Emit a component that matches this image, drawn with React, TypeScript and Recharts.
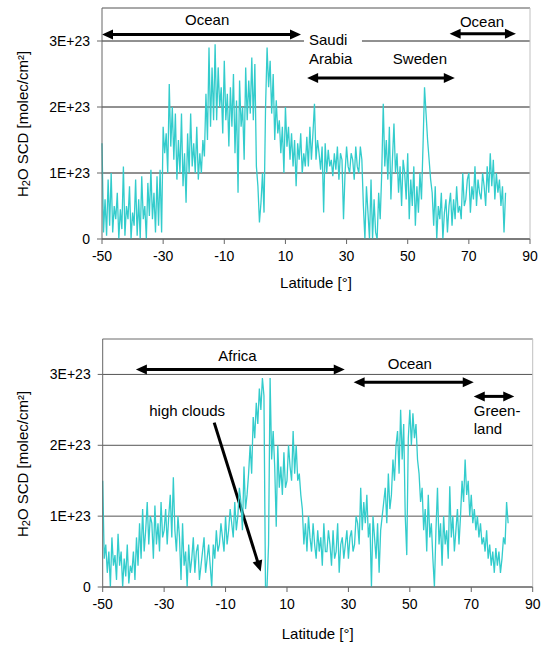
import React from "react";
import { LineChart, Line, XAxis, YAxis, CartesianGrid, ReferenceLine, ReferenceDot } from "recharts";

// H2O slant column density, in units of 1E+23 molec/cm², sampled every 0.5° from -50°
const START_LAT = -50;
const LAT_STEP = 0.5;

const upperScd = [
  1.45, 0.1, 0.6, 0.05, 0.9, 0.2, 1.0, 0.1, 0.5, 0.3, // -50
  0.7, 0.0, 0.45, 0.15, 1.1, 0.05, 0.5, 0.3, 0.8, 0.0, // -45
  0.4, 0.2, 0.9, 0.05, 0.6, 0.0, 0.95, 0.3, 0.5, 0.0, // -40
  0.85, 0.35, 1.05, 0.3, 0.7, 0.1, 0.95, 0.2, 1.05, 0.1, // -35
  1.7, 1.3, 1.6, 1.0, 2.35, 1.4, 2.0, 1.2, 1.9, 0.9, // -30
  1.5, 1.0, 1.9, 0.8, 1.3, 0.55, 1.6, 1.0, 1.9, 1.1, // -25
  1.45, 1.0, 1.7, 0.9, 1.3, 1.0, 1.5, 1.25, 2.2, 1.5, // -20
  2.9, 1.7, 2.6, 1.8, 2.95, 1.8, 2.6, 2.0, 2.3, 1.6, // -15
  2.7, 1.8, 2.2, 1.4, 2.3, 1.7, 2.5, 1.3, 2.1, 0.7, // -10
  2.4, 1.7, 2.0, 1.2, 2.6, 1.8, 2.4, 1.9, 2.75, 1.8, // -5
  2.65, 1.1, 0.8, 0.25, 0.55, 1.0, 0.4, 2.0, 2.9, 2.3, // 0
  2.7, 1.9, 2.5, 1.5, 2.1, 1.6, 1.8, 1.3, 1.7, 1.0, // 5
  2.0, 1.4, 1.7, 1.2, 1.6, 1.1, 1.5, 0.8, 1.45, 1.2, // 10
  1.6, 1.0, 1.3, 1.1, 1.55, 1.1, 1.7, 1.2, 1.6, 2.05, // 15
  1.2, 1.5, 1.3, 1.05, 1.4, 0.4, 1.45, 1.0, 1.35, 1.1, // 20
  1.2, 0.95, 1.3, 1.05, 1.4, 0.9, 1.3, 1.2, 0.3, 1.0, // 25
  1.4, 1.1, 1.0, 1.3, 1.2, 0.9, 1.4, 1.1, 1.0, 1.4, // 30
  1.2, 0.5, 0.0, 0.8, 0.4, 0.0, 0.9, 0.0, 0.6, 0.1, // 35
  0.0, 0.7, 0.3, 1.0, 2.05, 1.1, 1.5, 0.9, 1.7, 0.6, // 40
  1.2, 1.75, 1.0, 1.3, 0.7, 1.1, 0.5, 1.2, 1.0, 0.6, // 45
  1.3, 0.3, 0.9, 0.5, 1.1, 0.2, 0.8, 0.4, 1.0, 0.6, // 50
  1.4, 2.3, 1.9, 1.5, 1.2, 0.9, 0.7, 0.2, 0.8, 0.0, // 55
  0.5, 0.3, 0.7, 0.0, 0.4, 0.6, 0.1, 0.5, 0.7, 0.2, // 60
  0.6, 0.3, 0.8, 0.4, 0.5, 0.3, 1.0, 0.5, 0.6, 0.9, // 65
  1.0, 0.4, 0.8, 0.6, 1.1, 0.5, 0.9, 0.7, 0.6, 1.0, // 70
  0.8, 0.5, 1.1, 0.7, 1.3, 0.8, 1.2, 0.6, 1.0, 0.7, // 75
  0.9, 0.5, 0.8, 0.1, 0.7, // 80
];

const lowerScd = [
  1.5, 0.4, 0.6, 0.2, 0.5, 0.0, 0.7, 0.3, 0.45, 0.1, // -50
  0.75, 0.3, 0.5, 0.0, 0.4, 0.15, 0.6, 0.05, 0.3, 0.2, // -45
  0.5, 0.1, 0.7, 0.3, 0.9, 0.4, 1.1, 0.5, 0.8, 1.2, // -40
  0.6, 1.0, 0.9, 0.4, 1.15, 0.6, 0.9, 0.5, 1.2, 0.7, // -35
  0.8, 1.1, 0.6, 1.0, 1.3, 0.7, 1.55, 0.8, 0.5, 1.0, // -30
  0.7, 0.1, 0.9, 0.3, 0.5, 0.0, 0.6, 0.2, 0.4, 0.7, // -25
  0.2, 0.5, 0.6, 0.1, 0.3, 0.5, 0.7, 0.2, 0.4, 0.6, // -20
  0.3, 0.0, 0.6, 0.4, 0.8, 0.5, 0.6, 0.9, 0.7, 0.5, // -15
  1.0, 0.6, 0.8, 1.1, 0.9, 0.7, 1.2, 0.8, 1.0, 1.4, // -10
  1.2, 0.8, 1.7, 1.1, 1.3, 1.6, 2.0, 1.6, 2.4, 2.1, // -5
  2.6, 2.3, 2.8, 2.5, 2.95, 2.7, 0.0, 0.0, 0.6, 2.95, // 0
  1.8, 2.2, 1.7, 0.85, 2.0, 1.4, 1.7, 1.3, 1.9, 1.4, // 5
  1.5, 2.0, 1.7, 1.5, 2.2, 1.6, 2.0, 1.5, 1.6, 1.3, // 10
  1.1, 0.6, 0.9, 0.5, 1.0, 0.7, 0.5, 0.9, 0.6, 0.4, // 15
  0.8, 0.5, 0.7, 0.3, 0.9, 0.5, 0.5, 0.8, 0.6, 0.3, // 20
  0.8, 0.4, 0.5, 0.9, 0.2, 0.6, 0.7, 0.4, 0.6, 0.8, // 25
  0.4, 0.7, 0.8, 0.5, 0.6, 1.0, 0.9, 0.6, 1.4, 0.8, // 30
  1.2, 0.9, 1.3, 0.7, 0.9, 0.0, 1.0, 0.7, 0.4, 0.9, // 35
  0.2, 0.8, 1.0, 1.2, 1.4, 0.9, 1.6, 1.1, 1.3, 1.8, // 40
  1.5, 2.0, 2.2, 1.6, 2.5, 1.8, 2.3, 1.0, 0.45, 2.1, // 45
  2.5, 2.0, 2.45, 2.1, 2.3, 1.8, 1.6, 1.2, 1.4, 0.8, // 50
  1.1, 0.5, 1.3, 0.7, 0.9, 0.4, 0.0, 0.8, 1.4, 0.6, // 55
  0.9, 0.3, 1.0, 0.6, 0.8, 0.4, 1.42, 0.7, 1.0, 0.5, // 60
  0.8, 1.1, 0.6, 1.0, 1.5, 1.2, 1.8, 1.3, 1.5, 1.0, // 65
  1.3, 0.9, 1.1, 0.8, 1.0, 0.7, 0.9, 0.6, 0.7, 0.5, // 70
  0.8, 0.4, 0.6, 0.3, 0.5, 0.2, 0.55, 0.3, 0.5, 0.2, // 75
  0.4, 0.7, 0.6, 1.2, 0.9, // 80
];

const latTicks = [-50, -30, -10, 10, 30, 50, 70, 90];
const scdTicks = [0, 1, 2, 3];

const toRows = (vals: number[]) => vals.map((scd, i) => ({ lat: START_LAT + i * LAT_STEP, scd }));
const upperData = toRows(upperScd);
const lowerData = toRows(lowerScd);

const LINE = "#33CCCC";
const AXIS = "#666";
const fmt = (v: number) => (v === 0 ? "0" : `${v}E+23`);

// thick black arrow, heads at one or both ends
const arrow = (both: boolean) => (p: any) => {
  const { x1, y1, x2, y2 } = p;
  const len = Math.hypot(x2 - x1, y2 - y1) || 1;
  const ux = (x2 - x1) / len, uy = (y2 - y1) / len;
  const nx = -uy, ny = ux;
  const L = 11, W = 5;
  const head = (tx: number, ty: number, dx: number, dy: number) =>
    `${tx},${ty} ${tx - dx * L + nx * W},${ty - dy * L + ny * W} ${tx - dx * L - nx * W},${ty - dy * L - ny * W}`;
  const sx = both ? x1 + ux * (L - 1) : x1, sy = both ? y1 + uy * (L - 1) : y1;
  return (
    <g>
      <line x1={sx} y1={sy} x2={x2 - ux * (L - 1)} y2={y2 - uy * (L - 1)} stroke="#000" strokeWidth={3} />
      <polygon points={head(x2, y2, ux, uy)} fill="#000" />
      {both && <polygon points={head(x1, y1, -ux, -uy)} fill="#000" />}
    </g>
  );
};

const note = (text: string, anchor: "start" | "middle" = "middle", mask = 0) => (p: any) => (
  <g>
    {mask > 0 && <rect x={p.cx - 5} y={p.cy - 9} width={mask} height={18} fill="#fff" />}
    <text x={p.cx} y={p.cy} textAnchor={anchor} dominantBaseline="central" fontSize={15} fill="#000">
      {text}
    </text>
  </g>
);

const yTitle = (cy: number) => () => (
  <text x={22} y={cy} transform={`rotate(-90, 22, ${cy})`} textAnchor="middle" dominantBaseline="central" fontSize={15} fill="#000">
    H<tspan dy={4} fontSize={11}>2</tspan>
    <tspan dy={-4}>O SCD [molec/cm²]</tspan>
  </text>
);

const xTitle = (cx: number, cy: number) => () => (
  <text x={cx} y={cy} textAnchor="middle" dominantBaseline="central" fontSize={15} fill="#000">
    Latitude [°]
  </text>
);

function Panel(props: {
  data: { lat: number; scd: number }[];
  height: number;
  top: number;
  right: number;
  yWidth: number;
  xHeight: number;
  grid: string;
  titleY: number;
  titleX: number;
  children?: React.ReactNode;
}) {
  const { data, height, top, right, yWidth, xHeight, grid, titleY, titleX } = props;
  return (
    <LineChart width={544} height={height} data={data} margin={{ top, right, bottom: 0, left: 0 }}>
      <CartesianGrid vertical={false} stroke={grid} />
      <ReferenceLine y={3.5} stroke="#c0c0c0" />
      <ReferenceLine x={90} stroke="#c0c0c0" />
      <XAxis
        dataKey="lat"
        type="number"
        domain={[-50, 90]}
        ticks={latTicks}
        interval={0}
        height={xHeight}
        tickSize={5}
        tickMargin={7}
        stroke={AXIS}
        tick={{ fontSize: 14, fill: "#000" }}
        label={{ content: xTitle(yWidth + (544 - yWidth - right) / 2, titleX) }}
      />
      <YAxis
        domain={[0, 3.5]}
        ticks={scdTicks}
        interval={0}
        width={yWidth}
        tickSize={5}
        tickMargin={7}
        stroke={AXIS}
        tick={{ fontSize: 14, fill: "#000" }}
        tickFormatter={fmt}
        label={{ content: yTitle(titleY) }}
      />
      {props.children}
      <Line dataKey="scd" stroke={LINE} strokeWidth={1.3} dot={false} isAnimationActive={false} />
    </LineChart>
  );
}

export default function App() {
  return (
    <div style={{ position: "absolute", left: 0, top: 0, width: 544, height: 646, background: "#fff", fontFamily: "'Liberation Sans', Arial, sans-serif" }}>
      <div style={{ position: "absolute", left: 0, top: 0 }}>
        <Panel data={upperData} height={300} top={8} right={14} yWidth={102} xHeight={61} grid="#222" titleY={124} titleX={282}>
          <ReferenceLine segment={[{ x: -50, y: 3.1 }, { x: 15.1, y: 3.1 }]} ifOverflow="visible" shape={arrow(true)} />
          <ReferenceLine segment={[{ x: 63.7, y: 3.11 }, { x: 85.4, y: 3.11 }]} ifOverflow="visible" shape={arrow(true)} />
          <ReferenceLine segment={[{ x: 17.1, y: 2.44 }, { x: 65.4, y: 2.44 }]} ifOverflow="visible" shape={arrow(true)} />
          <ReferenceDot x={-15.6} y={3.32} ifOverflow="visible" shape={note("Ocean")} />
          <ReferenceDot x={74.3} y={3.3} ifOverflow="visible" shape={note("Ocean")} />
          <ReferenceDot x={17.7} y={3.02} ifOverflow="visible" shape={note("Saudi", "start", 58)} />
          <ReferenceDot x={17.7} y={2.74} ifOverflow="visible" shape={note("Arabia", "start")} />
          <ReferenceDot x={54} y={2.74} ifOverflow="visible" shape={note("Sweden")} />
        </Panel>
      </div>
      <div style={{ position: "absolute", left: 0, top: 330 }}>
        <Panel data={lowerData} height={316} top={9} right={11.3} yWidth={102.7} xHeight={59} grid="#555" titleY={134} titleX={303}>
          <ReferenceLine segment={[{ x: -39.2, y: 3.07 }, { x: 28.8, y: 3.07 }]} ifOverflow="visible" shape={arrow(true)} />
          <ReferenceLine segment={[{ x: 31.7, y: 2.89 }, { x: 70.8, y: 2.89 }]} ifOverflow="visible" shape={arrow(true)} />
          <ReferenceLine segment={[{ x: 70.8, y: 2.69 }, { x: 84, y: 2.69 }]} ifOverflow="visible" shape={arrow(true)} />
          <ReferenceLine segment={[{ x: -13.7, y: 2.32 }, { x: 1.45, y: 0.22 }]} ifOverflow="visible" shape={arrow(false)} />
          <ReferenceDot x={-6.1} y={3.27} ifOverflow="visible" shape={note("Africa")} />
          <ReferenceDot x={50} y={3.16} ifOverflow="visible" shape={note("Ocean")} />
          <ReferenceDot x={70.8} y={2.49} ifOverflow="visible" shape={note("Green-", "start")} />
          <ReferenceDot x={70.8} y={2.23} ifOverflow="visible" shape={note("land", "start")} />
          <ReferenceDot x={-22.5} y={2.49} ifOverflow="visible" shape={note("high clouds")} />
        </Panel>
      </div>
    </div>
  );
}
